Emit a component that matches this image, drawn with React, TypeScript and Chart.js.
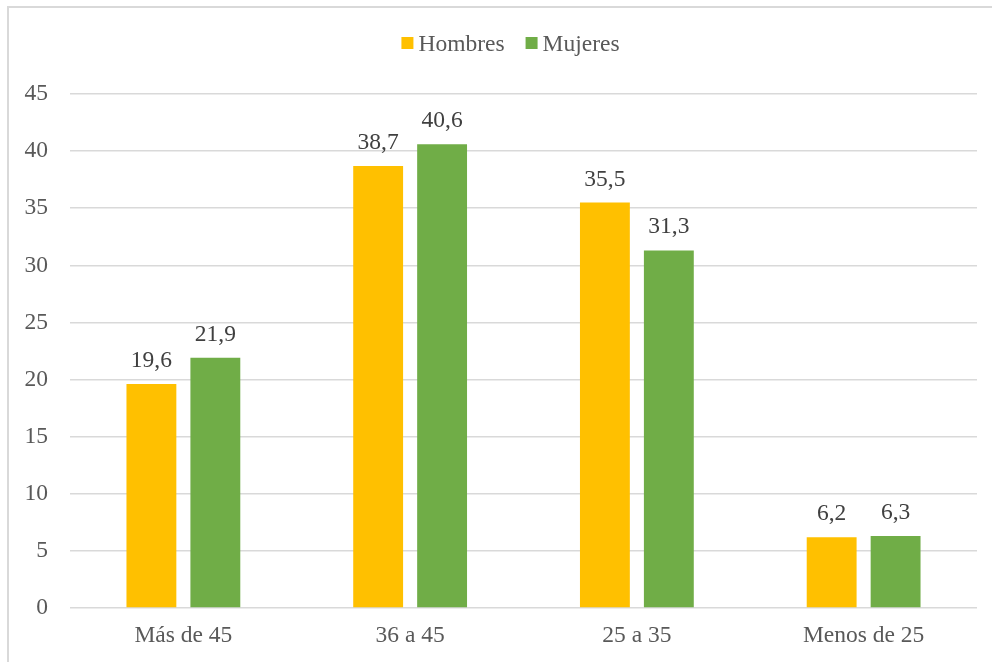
import React, { useEffect, useRef } from "react";
import { Chart, registerables } from "chart.js";

Chart.register(...registerables);

const categories = ["Más de 45", "36 a 45", "25 a 35", "Menos de 25"];
const hombres = [19.6, 38.7, 35.5, 6.2];
const mujeres = [21.9, 40.6, 31.3, 6.3];
const seriesNames = ["Hombres", "Mujeres"];
const seriesColors = ["#FFC000", "#70AD47"];

const FONT = '"Liberation Serif", "Times New Roman", Times, serif';
const FS = 23.5;

const dataLabels = {
  id: "dataLabels",
  afterDatasetsDraw(chart: any) {
    const ctx = chart.ctx;
    ctx.save();
    ctx.font = `${FS}px ${FONT}`;
    ctx.fillStyle = "#404040";
    ctx.textAlign = "center";
    ctx.textBaseline = "alphabetic";
    chart.data.datasets.forEach((ds: any, i: number) => {
      const meta = chart.getDatasetMeta(i);
      meta.data.forEach((el: any, j: number) => {
        const v = ds.data[j] as number;
        ctx.fillText(v.toFixed(1).replace(".", ","), el.x, el.y - 17);
      });
    });
    ctx.restore();
  },
};

const customLegend = {
  id: "customLegend",
  afterDraw(chart: any) {
    const ctx = chart.ctx;
    ctx.save();
    ctx.font = `${FS}px ${FONT}`;
    const box = 12;
    const gap = 5;
    const itemGap = 21;
    const items = chart.data.datasets.map((ds: any) => ({
      label: ds.label,
      color: ds.backgroundColor,
      w: box + gap + ctx.measureText(ds.label).width,
    }));
    const total = items.reduce((s: number, it: any) => s + it.w, 0) + itemGap * (items.length - 1);
    const center = chart.width / 2 + 14.5;
    let x = center - total / 2;
    const cy = 43;
    items.forEach((it: any) => {
      ctx.fillStyle = it.color;
      ctx.fillRect(x, cy - box / 2, box, box);
      ctx.fillStyle = "#595959";
      ctx.textAlign = "left";
      ctx.textBaseline = "alphabetic";
      ctx.fillText(it.label, x + box + gap, cy + 8);
      x += it.w + itemGap;
    });
    ctx.restore();
  },
};

export default function App() {
  const ref = useRef<HTMLCanvasElement>(null);

  useEffect(() => {
    document.body.style.margin = "0";
    let chart: Chart | null = null;
    let cancelled = false;
    const make = () => {
      if (cancelled || !ref.current) return;
      chart = new Chart(ref.current, {
        type: "bar",
        data: {
          labels: categories,
          datasets: [
            {
              label: seriesNames[0],
              data: hombres,
              backgroundColor: seriesColors[0],
              categoryPercentage: 0.564,
              barPercentage: 0.78,
            },
            {
              label: seriesNames[1],
              data: mujeres,
              backgroundColor: seriesColors[1],
              categoryPercentage: 0.564,
              barPercentage: 0.78,
            },
          ],
        },
        options: {
          animation: false,
          responsive: false,
          maintainAspectRatio: false,
          layout: { padding: { top: 94, right: 15, bottom: 0, left: 0 } },
          plugins: {
            legend: { display: false },
            tooltip: { enabled: false },
            title: { display: false },
          },
          scales: {
            x: {
              grid: { display: false, drawTicks: false },
              border: { display: false },
              ticks: {
                color: "#595959",
                font: { family: FONT, size: FS },
                padding: 14,
              },
              afterFit(scale: any) {
                scale.height = 54;
              },
            },
            y: {
              min: 0,
              max: 45,
              ticks: {
                stepSize: 5,
                color: "#595959",
                font: { family: FONT, size: FS },
                padding: 22,
              },
              grid: { color: "#d9d9d9", lineWidth: 1.5, drawTicks: false },
              border: { display: false },
              afterFit(scale: any) {
                scale.width = 70;
              },
            },
          },
        },
        plugins: [dataLabels, customLegend],
      });
    };
    const fonts: any = (document as any).fonts;
    if (fonts && fonts.load) {
      fonts
        .load(`${FS}px "Liberation Serif"`)
        .then(make, make);
    } else {
      make();
    }
    return () => {
      cancelled = true;
      if (chart) chart.destroy();
    };
  }, []);

  return (
    <div style={{ position: "relative", width: 992, height: 662, overflow: "hidden", background: "#fff" }}>
      <span
        style={{
          position: "absolute",
          left: -1000,
          top: 0,
          fontFamily: FONT,
          fontSize: FS,
        }}
      >
        Hombres Mujeres 0123456789,
      </span>
      <canvas ref={ref} width={992} height={662} style={{ position: "absolute", left: 0, top: 0 }} />
      <div
        style={{
          position: "absolute",
          left: 7,
          top: 6,
          width: 1100,
          height: 800,
          border: "2px solid #d9d9d9",
          pointerEvents: "none",
        }}
      />
    </div>
  );
}
